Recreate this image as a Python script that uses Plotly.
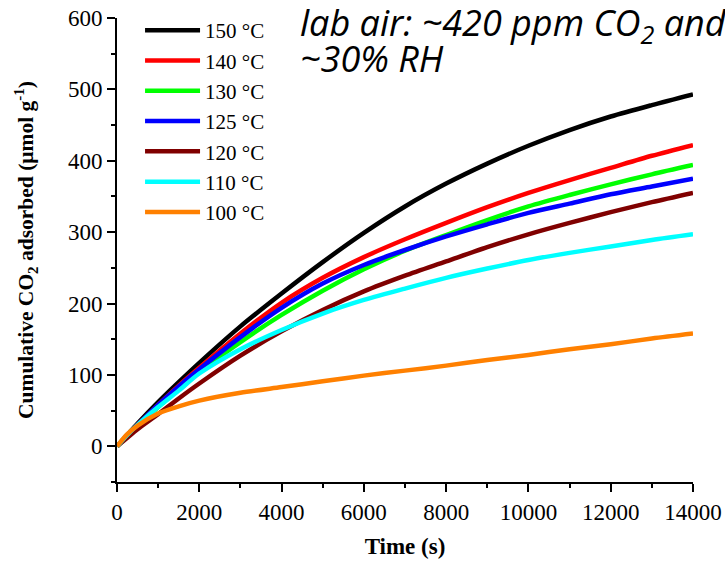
import plotly.graph_objects as go

time_s = [0, 250, 500, 1000, 1500, 2000, 3000, 4000, 5000, 6000, 7000, 8000, 9000, 10000, 11000, 12000, 13000, 14000]

labels = ["150 °C", "140 °C", "130 °C", "125 °C", "120 °C", "110 °C", "100 °C"]
colors = ["#000000", "#ff0000", "#00ff00", "#0000ff", "#800000", "#00ffff", "#ff8000"]

co2_150 = [0, 16, 32, 62, 90, 117, 168, 214, 258, 299, 336, 368, 396, 421, 443, 462, 478, 493]
co2_140 = [0, 15, 30, 58, 85, 110, 158, 201, 236, 265, 290, 313, 335, 355, 373, 390, 407, 422]
co2_130 = [0, 14, 28, 55, 80, 104, 146, 184, 218, 248, 274, 296, 317, 336, 352, 367, 381, 394]
co2_125 = [0, 15, 30, 58, 84, 108, 153, 194, 228, 254, 275, 294, 311, 327, 340, 353, 364, 375]
co2_120 = [0, 12, 24, 45, 67, 88, 127, 161, 191, 217, 239, 259, 279, 297, 313, 328, 342, 355]
co2_110 = [0, 16, 30, 55, 78, 102, 136, 163, 186, 205, 221, 236, 249, 261, 271, 280, 289, 297]
co2_100 = [0, 17, 29, 46, 56, 64, 75, 83, 91, 99, 106, 113, 121, 128, 136, 143, 151, 158]

series = [co2_150, co2_140, co2_130, co2_125, co2_120, co2_110, co2_100]

x_ticks = [0, 2000, 4000, 6000, 8000, 10000, 12000, 14000]
y_ticks = [0, 100, 200, 300, 400, 500, 600]

fig = go.Figure()
for name, col, ys in zip(labels, colors, series):
    fig.add_trace(go.Scatter(x=time_s, y=ys, mode="lines", name=name,
                             line=dict(color=col, width=4.5, shape="spline", smoothing=0.8)))

serif = "Liberation Serif, Times New Roman, serif"
sans = "Open Sans, sans-serif"

fig.update_layout(
    width=725, height=562,
    margin=dict(l=117, r=32, t=18, b=80, autoexpand=False),
    paper_bgcolor="white", plot_bgcolor="white",
    showlegend=True,
    legend=dict(x=0.04, y=1.0 + 8 / 464, xanchor="left", yanchor="top",
                font=dict(family=serif, size=21, color="black"),
                bgcolor="rgba(0,0,0,0)", itemwidth=55, tracegroupgap=0),
    xaxis=dict(range=[0, 14000], tickvals=x_ticks, ticktext=[str(v) for v in x_ticks],
               automargin=False,
               showline=True, linecolor="black", linewidth=2, mirror=False,
               ticks="outside", ticklen=8, tickwidth=2, tickcolor="black",
               minor=dict(ticks="outside", ticklen=4, tickwidth=2, tickcolor="black", dtick=1000),
               showgrid=False, zeroline=False,
               tickfont=dict(family=serif, size=23, color="black"),
               title=dict(text="<b>Time (s)</b>", font=dict(family=serif, size=23, color="black"), standoff=14)),
    yaxis=dict(range=[-50, 600], tickvals=y_ticks, ticktext=[str(v) for v in y_ticks],
               automargin=False,
               showline=True, linecolor="black", linewidth=2, mirror=False,
               ticks="outside", ticklen=8, tickwidth=2, tickcolor="black",
               minor=dict(ticks="outside", ticklen=4, tickwidth=2, tickcolor="black", dtick=50),
               showgrid=False, zeroline=False,
               tickfont=dict(family=serif, size=23, color="black"),
               title=dict(text="<b>Cumulative CO<sub>2</sub> adsorbed (μmol g<sup>-1</sup>)</b>",
                          font=dict(family=serif, size=21.5, color="black"), standoff=28)),
    annotations=[
        dict(text="<i>lab air: ~420 ppm CO<sub>2</sub> and</i>",
             xref="paper", yref="paper", x=(298 - 117) / 576, y=1.0 - (24 - 18) / 464,
             xanchor="left", yanchor="middle", align="left", showarrow=False,
             font=dict(family=sans, size=36, color="black")),
        dict(text="<i>~30% RH</i>",
             xref="paper", yref="paper", x=(298 - 117) / 576, y=1.0 - (58 - 18) / 464,
             xanchor="left", yanchor="middle", align="left", showarrow=False,
             font=dict(family=sans, size=36, color="black")),
    ],
)

fig.write_html("out.html")
